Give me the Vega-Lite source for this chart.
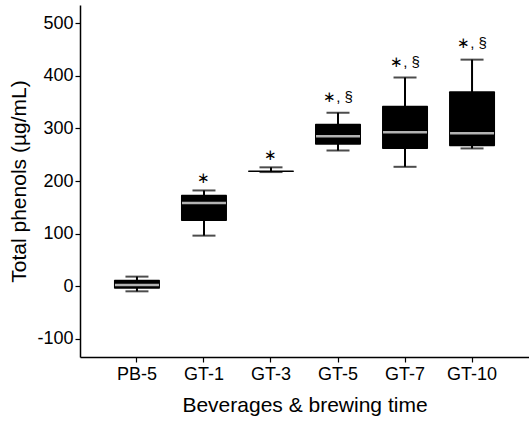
{
  "$schema": "https://vega.github.io/schema/vega-lite/v6.json",
  "autosize": "none",
  "width": 449,
  "height": 352,
  "padding": {"left": 80, "top": 5, "right": 0, "bottom": 71},
  "background": "white",
  "config": {
    "view": {"stroke": null},
    "font": "Liberation Sans",
    "axis": {"grid": false, "domainColor": "black", "tickColor": "black", "labelColor": "black", "titleColor": "black", "labelFont": "Liberation Sans", "titleFont": "Liberation Sans", "titleFontWeight": "normal", "domainWidth": 1.5, "tickWidth": 1.2}
  },
  "data": {
    "values": [
      {"group": "PB-5", "min": -10, "q1": -5, "median": 2, "q3": 12, "max": 18, "label": ""},
      {"group": "GT-1", "min": 96, "q1": 124, "median": 158, "q3": 174, "max": 182, "label": "∗", "ly": 206},
      {"group": "GT-3", "min": 217, "q1": 217, "median": null, "q3": 220, "max": 226, "label": "∗", "ly": 249},
      {"group": "GT-5", "min": 258, "q1": 269, "median": 285, "q3": 309, "max": 330, "label": "∗, §", "ly": 360},
      {"group": "GT-7", "min": 227, "q1": 261, "median": 293, "q3": 343, "max": 397, "label": "∗, §", "ly": 426},
      {"group": "GT-10", "min": 262, "q1": 266, "median": 291, "q3": 371, "max": 431, "label": "∗, §", "ly": 463}
    ]
  },
  "encoding": {
    "x": {
      "field": "group", "type": "nominal", "sort": null,
      "scale": {"paddingInner": 0.3, "paddingOuter": 0.5},
      "axis": {"title": "Beverages & brewing time", "labelAngle": 0, "labelFontSize": 18, "titleFontSize": 21, "tickSize": 5, "labelPadding": 3, "titlePadding": 11, "domainWidth": 1.5}
    }
  },
  "layer": [
    {
      "mark": {"type": "rule", "color": "black", "strokeWidth": 2},
      "encoding": {
        "y": {"field": "min", "type": "quantitative", "scale": {"domain": [-135, 535], "nice": false, "zero": false},
          "axis": {"title": "Total phenols (µg/mL)", "values": [-100, 0, 100, 200, 300, 400, 500], "labelExpr": "'' + datum.value", "labelFontSize": 18, "titleFontSize": 21, "tickSize": 5, "labelPadding": 2, "titlePadding": 7}},
        "y2": {"field": "max"}
      }
    },
    {
      "mark": {"type": "tick", "color": "black", "size": 23, "thickness": 2},
      "encoding": {"y": {"field": "min", "type": "quantitative"}}
    },
    {
      "mark": {"type": "tick", "color": "black", "size": 23, "thickness": 2},
      "encoding": {"y": {"field": "max", "type": "quantitative"}}
    },
    {
      "mark": {"type": "bar", "color": "black", "size": 46, "cornerRadius": 1},
      "encoding": {"y": {"field": "q1", "type": "quantitative"}, "y2": {"field": "q3"}}
    },
    {
      "mark": {"type": "tick", "color": "white", "size": 44, "thickness": 2.5},
      "encoding": {"y": {"field": "median", "type": "quantitative"}}
    },
    {
      "transform": [{"filter": "datum.label != ''"}],
      "mark": {"type": "text", "color": "black", "fontSize": 15, "baseline": "middle", "font": "Liberation Sans"},
      "encoding": {"y": {"field": "ly", "type": "quantitative"}, "text": {"field": "label"}}
    }
  ]
}
